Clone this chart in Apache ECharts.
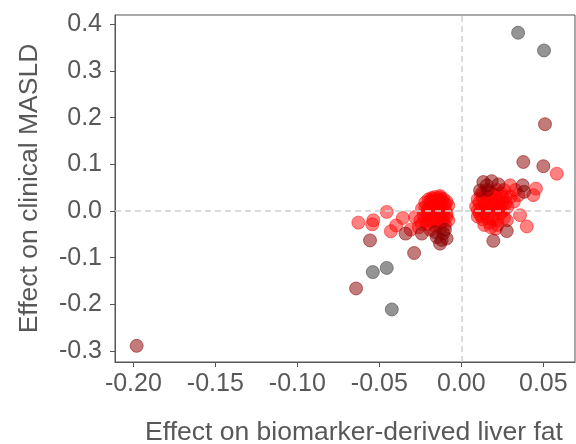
<!DOCTYPE html>
<html><head><meta charset="utf-8">
<script src="https://cdn.jsdelivr.net/npm/echarts@6/dist/echarts.min.js"></script>
<style>html,body{margin:0;padding:0;background:#fff}#c{width:576px;height:444px}</style>
</head><body><div id="c"></div>
<script>
const xTicks = [-0.20, -0.15, -0.10, -0.05, 0.00, 0.05];
const yTicks = [-0.3, -0.2, -0.1, 0.0, 0.1, 0.2, 0.3, 0.4];

const grayPoints = [
  [0.0346, 0.382], [0.0504, 0.344], [-0.054, -0.131], [-0.0455, -0.122], [-0.0424, -0.211]
];

const darkRedPoints = [
  [-0.198, -0.289], [-0.0642, -0.166], [-0.0557, -0.063], [-0.0288, -0.090], [-0.034, -0.0485],
  [-0.0241, -0.0485], [-0.015, -0.056], [-0.011, -0.048], [-0.013, -0.070], [-0.009, -0.059],
  [-0.012, -0.062], [-0.016, -0.045], [-0.010, -0.040],
  [0.0114, 0.044], [0.0155, 0.055], [0.0185, 0.064], [0.0226, 0.057], [0.0134, 0.062],
  [0.016, 0.045], [0.0374, 0.055], [0.0382, 0.041], [0.0277, -0.043], [0.0195, -0.064],
  [0.0378, 0.105], [0.050, 0.096], [0.051, 0.186]
];

const redPoints = [
  [-0.0628, -0.025], [-0.0537, -0.020], [-0.0543, -0.0285], [-0.0455, -0.002], [-0.043, -0.0435],
  [-0.0398, -0.031], [-0.0357, -0.015], [-0.0309, -0.040], [-0.0282, -0.013],
  [-0.024, 0.005], [-0.022, 0.018], [-0.020, 0.025], [-0.018, 0.028], [-0.016, 0.030],
  [-0.013, 0.029], [-0.011, 0.026], [-0.009, 0.020], [-0.008, 0.012], [-0.010, 0.005],
  [-0.012, -0.002], [-0.014, 0.010], [-0.016, 0.018], [-0.019, 0.012], [-0.021, 0.000],
  [-0.023, -0.010], [-0.020, -0.018], [-0.017, -0.008], [-0.015, -0.020], [-0.012, -0.015],
  [-0.009, -0.005], [-0.008, -0.020], [-0.010, -0.030], [-0.013, -0.035], [-0.017, -0.030],
  [-0.021, -0.028], [-0.025, -0.020], [-0.026, -0.035], [-0.019, -0.040], [-0.015, 0.022],
  [-0.012, 0.015], [-0.018, 0.002], [-0.014, -0.005],
  [-0.022, 0.008], [-0.020, 0.005], [-0.018, 0.020], [-0.016, 0.008], [-0.014, 0.025],
  [-0.012, 0.022], [-0.010, 0.015], [-0.011, -0.008], [-0.013, -0.025], [-0.016, -0.015],
  [-0.018, -0.022], [-0.020, -0.008], [-0.022, -0.020], [-0.024, -0.028], [-0.009, -0.012],
  [-0.011, -0.022], [-0.014, 0.004], [-0.017, 0.026], [-0.019, 0.022], [-0.013, 0.032],
  [0.009, 0.010], [0.010, 0.025], [0.011, -0.005], [0.012, 0.035], [0.013, -0.018],
  [0.014, 0.015], [0.015, 0.000], [0.016, 0.030], [0.017, -0.025], [0.018, 0.040],
  [0.019, 0.012], [0.020, -0.010], [0.021, 0.025], [0.022, -0.030], [0.023, 0.005],
  [0.024, 0.038], [0.025, 0.018], [0.026, -0.015], [0.027, 0.030], [0.028, 0.008],
  [0.012, 0.005], [0.016, 0.015], [0.020, 0.035], [0.024, -0.005], [0.018, -0.035],
  [0.014, -0.030], [0.010, -0.012], [0.022, 0.045], [0.026, 0.045], [0.0297, 0.055],
  [0.011, 0.018], [0.013, 0.028], [0.015, 0.040], [0.017, 0.008], [0.019, -0.018],
  [0.021, 0.002], [0.023, 0.020], [0.025, 0.030], [0.012, -0.010], [0.014, -0.005],
  [0.016, -0.015], [0.018, 0.022], [0.020, 0.015], [0.022, -0.020], [0.024, 0.010],
  [0.026, 0.002], [0.010, 0.002], [0.013, 0.040], [0.021, -0.038], [0.027, 0.018],
  [0.030, 0.030], [0.033, 0.045],
  [0.032, 0.020], [0.0455, 0.048], [0.0439, 0.034], [0.0348, 0.034], [0.0358, -0.009],
  [0.0399, -0.033], [0.0277, -0.020], [0.0582, 0.080]
];

const FONT = "'Liberation Sans', Arial, sans-serif";
const TXT = '#585858';
const chart = echarts.init(document.getElementById('c'), null, {renderer: 'canvas'});

function sc(name, data, color, z) {
  return {
    name, type: 'scatter', data, symbolSize: 13, z,
    itemStyle: {color: color, borderColor: color, borderWidth: 1},
    emphasis: {disabled: true}
  };
}

const series = [
  sc('red', redPoints, 'rgba(255,0,0,0.62)', 2),
  sc('darkred', darkRedPoints, 'rgba(139,0,0,0.65)', 3),
  sc('gray', grayPoints, 'rgba(70,70,70,0.72)', 4)
];
series[2].markLine = {
  silent: true, symbol: 'none', label: {show: false},
  lineStyle: {color: '#cfcfcf', width: 1.5, type: [6, 4]},
  data: [{xAxis: 0}, {yAxis: 0}]
};

chart.setOption({
  animation: false,
  grid: {left: 115, right: 1, top: 15, bottom: 82, show: true, borderColor: '#555', borderWidth: 1,
    backgroundColor: 'transparent', containLabel: false, outerBoundsMode: 'none'},
  xAxis: {
    type: 'value', min: -0.2112, max: 0.0693,
    name: 'Effect on biomarker-derived liver fat', nameLocation: 'middle', nameGap: 57,
    nameTextStyle: {fontFamily: FONT, fontSize: 26.5, color: TXT, padding: [0, 0, 0, 18]},
    axisLine: {show: true, onZero: false, lineStyle: {color: '#555'}},
    axisTick: {show: true, length: 5, customValues: xTicks, lineStyle: {color: '#555'}},
    axisLabel: {customValues: xTicks, fontFamily: FONT, fontSize: 25, color: TXT, margin: 10,
      formatter: v => v.toFixed(2)},
    splitLine: {show: false}
  },
  yAxis: {
    type: 'value', min: -0.3236, max: 0.42,
    name: 'Effect on clinical MASLD', nameLocation: 'middle', nameGap: 72,
    nameTextStyle: {fontFamily: FONT, fontSize: 26.5, color: TXT},
    axisLine: {show: true, onZero: false, lineStyle: {color: '#555'}},
    axisTick: {show: true, length: 5, customValues: yTicks, lineStyle: {color: '#555'}},
    axisLabel: {customValues: yTicks, fontFamily: FONT, fontSize: 25, color: TXT, margin: 13,
      formatter: v => v.toFixed(1)},
    splitLine: {show: false}
  },
  series
});
</script></body></html>
